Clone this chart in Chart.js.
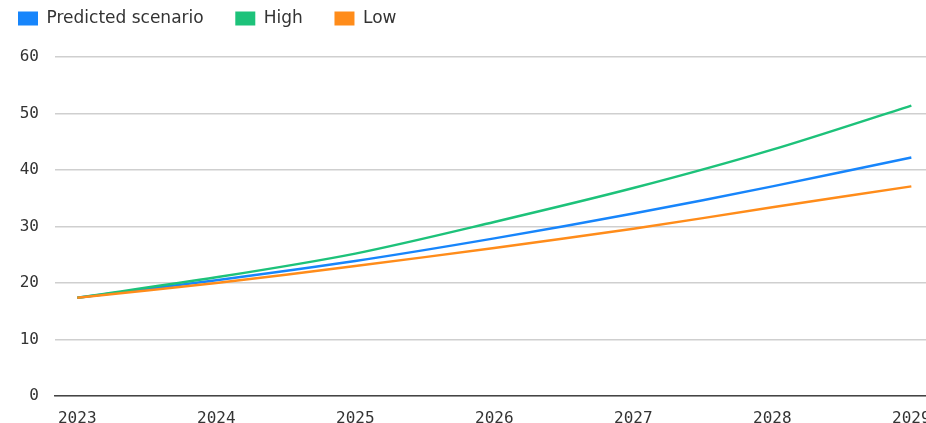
<!DOCTYPE html>
<html>
<head>
<meta charset="utf-8">
<script src="https://cdn.jsdelivr.net/npm/chart.js@4.4.1/dist/chart.umd.min.js"></script>
<style>
  html, body { margin: 0; padding: 0; background: #fff; overflow: hidden; }
  #wrap { position: relative; width: 960px; height: 423px; }
</style>
</head>
<body>
<div id="wrap"><canvas id="forecastChart"></canvas></div>
<script>
// --- Data ---
const years = [2023, 2024, 2025, 2026, 2027, 2028, 2029];
const predicted = [17.4, 20.5, 23.9, 27.9, 32.3, 37.1, 42.2];
const high = [17.4, 21.0, 25.2, 30.8, 36.8, 43.6, 51.4];
const low = [17.4, 20.0, 23.0, 26.2, 29.6, 33.4, 37.1];
const yTicks = [0, 10, 20, 30, 40, 50, 60];

const seriesNames = ['Predicted scenario', 'High', 'Low'];
const seriesColors = ['#1785fb', '#1dc27a', '#ff8c1a'];

const tickFont = { family: 'DejaVu Sans Mono', size: 16 };

// pairs years with values for the linear x scale
function toPoints(values) {
    return years.map((yr, i) => ({ x: yr, y: values[i] }));
}

// extra space between legend and plot area
const legendSpacer = {
    id: 'legendSpacer',
    beforeInit(chart) {
        const fit = chart.legend.fit;
        chart.legend.fit = function () {
            fit.call(this);
            this.height += 20;
        };
    }
};

const ctx = document.getElementById('forecastChart');
new Chart(ctx, {
    type: 'line',
    data: {
        datasets: [predicted, high, low].map((vals, i) => ({
            label: seriesNames[i],
            data: toPoints(vals),
            borderColor: seriesColors[i],
            backgroundColor: seriesColors[i],
            borderWidth: 2.5,
            pointRadius: 0,
            tension: 0.3,
            fill: false,
            order: 3 - i
        }))
    },
    options: {
        responsive: true,
        maintainAspectRatio: false,
        animation: false,
        layout: { padding: { left: 8, right: 0, top: 0, bottom: 0 } },
        plugins: {
            tooltip: { enabled: false },
            legend: {
                align: 'start',
                labels: {
                    boxWidth: 20,
                    boxHeight: 14,
                    padding: 10,
                    color: '#333',
                    font: { family: 'DejaVu Sans', size: 17 },
                    generateLabels: chart => Chart.defaults.plugins.legend.labels.generateLabels(chart)
                        .sort((a, b) => a.datasetIndex - b.datasetIndex)
                        .map(item => ({ ...item, text: item.text + '    ', lineWidth: 0 }))
                }
            }
        },
        scales: {
            x: {
                type: 'linear',
                min: 2022.84,
                max: 2029.35,
                afterBuildTicks: s => { s.ticks = years.map(v => ({ value: v })); },
                afterFit: s => { s.height = 27; },
                grid: { display: false },
                border: { display: true, color: '#444', width: 1.5 },
                ticks: {
                    color: '#333',
                    font: tickFont,
                    padding: 5,
                    maxRotation: 0,
                    autoSkip: false,
                    callback: v => String(v)
                }
            },
            y: {
                min: 0,
                max: 60,
                afterBuildTicks: s => { s.ticks = yTicks.map(v => ({ value: v })); },
                afterFit: s => { s.width = 47; },
                grid: { color: '#cfcfcf', lineWidth: 1.5, drawTicks: false },
                border: { display: false },
                ticks: { color: '#333', font: tickFont, padding: 16 }
            }
        }
    },
    plugins: [legendSpacer]
});
</script>
</body>
</html>
